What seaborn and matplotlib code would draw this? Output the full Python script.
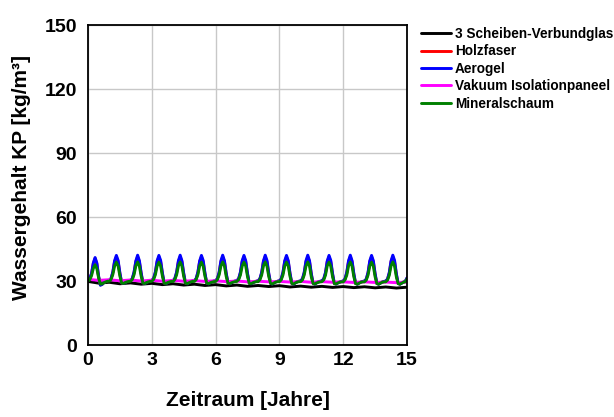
import numpy as np
import pandas as pd
import seaborn as sns
import matplotlib
matplotlib.use("Agg")
import matplotlib.pyplot as plt

# Materialien (Legendenreihenfolge) und Farben
materialien = ["3 Scheiben-Verbundglas", "Holzfaser", "Aerogel",
               "Vakuum Isolationpaneel", "Mineralschaum"]
farben = ["#000000", "#ff0000", "#0000ff", "#ff00ff", "#008000"]

# Monatswerte (je Zeile ein Jahr, 12 Monate) + Endwert bei 15 Jahren
monate = np.arange(181)

aerogel = [
    30.5, 31.2, 33.6, 38.5, 41.0, 38.4, 32.2, 28.0, 28.4, 29.3, 29.8, 30.1,
    30.3, 31.2, 34.2, 39.5, 42.0, 39.6, 33.8, 29.2, 28.8, 29.3, 29.8, 30.1,
    30.3, 31.2, 34.3, 39.4, 42.1, 39.5, 33.8, 29.2, 28.8, 29.3, 29.8, 30.1,
    30.3, 31.2, 34.2, 39.5, 42.0, 39.6, 33.7, 29.1, 28.8, 29.3, 29.7, 30.0,
    30.2, 31.2, 34.2, 39.5, 42.1, 39.5, 33.7, 29.1, 28.7, 29.3, 29.7, 30.0,
    30.2, 31.1, 34.2, 39.4, 42.0, 39.6, 33.7, 29.1, 28.7, 29.2, 29.7, 30.0,
    30.2, 31.1, 34.1, 39.5, 42.1, 39.5, 33.6, 29.1, 28.7, 29.2, 29.7, 30.0,
    30.2, 31.1, 34.2, 39.5, 42.0, 39.5, 33.6, 29.0, 28.7, 29.2, 29.6, 29.9,
    30.1, 31.1, 34.1, 39.4, 42.1, 39.6, 33.6, 29.0, 28.6, 29.2, 29.6, 29.9,
    30.1, 31.0, 34.1, 39.5, 42.0, 39.5, 33.6, 29.0, 28.6, 29.1, 29.6, 29.9,
    30.1, 31.0, 34.1, 39.5, 42.1, 39.5, 33.5, 29.0, 28.6, 29.1, 29.6, 29.9,
    30.1, 31.0, 34.0, 39.4, 42.0, 39.6, 33.5, 28.9, 28.6, 29.1, 29.5, 29.8,
    30.0, 31.0, 34.1, 39.5, 42.1, 39.5, 33.5, 28.9, 28.5, 29.1, 29.5, 29.8,
    30.0, 30.9, 34.0, 39.5, 42.0, 39.5, 33.5, 28.9, 28.5, 29.0, 29.5, 29.8,
    30.0, 30.9, 34.0, 39.4, 42.1, 39.6, 33.4, 28.9, 28.5, 29.0, 29.5, 29.8,
    31.5,
]

holzfaser = [
    30.3, 31.0, 33.4, 38.2, 40.6, 38.0, 31.9, 28.2, 28.5, 29.3, 29.7, 30.1,
    30.2, 31.1, 33.9, 39.0, 41.3, 39.0, 33.4, 29.1, 28.9, 29.4, 29.8, 30.0,
    30.2, 31.1, 33.9, 39.1, 41.4, 38.9, 33.4, 29.1, 28.9, 29.4, 29.8, 30.0,
    30.2, 31.1, 33.9, 39.0, 41.3, 39.0, 33.3, 29.0, 28.9, 29.4, 29.7, 30.0,
    30.1, 31.1, 33.8, 39.0, 41.4, 39.0, 33.3, 29.0, 28.8, 29.3, 29.7, 30.0,
    30.1, 31.0, 33.8, 39.1, 41.3, 38.9, 33.3, 29.0, 28.8, 29.3, 29.7, 29.9,
    30.1, 31.0, 33.8, 39.0, 41.4, 39.0, 33.2, 29.0, 28.8, 29.3, 29.7, 29.9,
    30.1, 31.0, 33.7, 39.0, 41.3, 39.0, 33.2, 28.9, 28.8, 29.3, 29.6, 29.9,
    30.0, 31.0, 33.7, 39.1, 41.4, 38.9, 33.2, 28.9, 28.7, 29.2, 29.6, 29.9,
    30.0, 30.9, 33.7, 39.0, 41.3, 39.0, 33.2, 28.9, 28.7, 29.2, 29.6, 29.8,
    30.0, 30.9, 33.7, 39.0, 41.4, 39.0, 33.1, 28.9, 28.7, 29.2, 29.6, 29.8,
    30.0, 30.9, 33.6, 39.1, 41.3, 38.9, 33.1, 28.8, 28.7, 29.2, 29.5, 29.8,
    29.9, 30.9, 33.6, 39.0, 41.4, 39.0, 33.1, 28.8, 28.6, 29.1, 29.5, 29.8,
    29.9, 30.8, 33.6, 39.0, 41.3, 39.0, 33.1, 28.8, 28.6, 29.1, 29.5, 29.7,
    29.9, 30.8, 33.6, 39.1, 41.4, 38.9, 33.0, 28.8, 28.6, 29.1, 29.5, 29.7,
    31.3,
]

mineralschaum = [
    30.0, 30.6, 32.5, 35.9, 37.6, 35.8, 31.4, 28.5, 28.6, 29.2, 29.6, 29.9,
    29.9, 30.7, 33.0, 37.0, 38.8, 37.0, 32.3, 29.1, 28.8, 29.3, 29.6, 29.8,
    29.9, 30.7, 33.0, 37.1, 38.9, 36.9, 32.3, 29.1, 28.8, 29.3, 29.6, 29.8,
    29.9, 30.7, 32.9, 37.0, 38.8, 37.0, 32.2, 29.0, 28.8, 29.3, 29.6, 29.8,
    29.8, 30.7, 32.9, 37.0, 38.9, 37.0, 32.2, 29.0, 28.7, 29.2, 29.6, 29.8,
    29.8, 30.6, 32.9, 37.1, 38.8, 36.9, 32.2, 29.0, 28.7, 29.2, 29.5, 29.7,
    29.8, 30.6, 32.9, 37.0, 38.9, 37.0, 32.1, 29.0, 28.7, 29.2, 29.5, 29.7,
    29.8, 30.6, 32.8, 37.0, 38.8, 37.0, 32.1, 28.9, 28.7, 29.2, 29.5, 29.7,
    29.7, 30.6, 32.8, 37.1, 38.9, 36.9, 32.1, 28.9, 28.6, 29.1, 29.5, 29.7,
    29.7, 30.5, 32.8, 37.0, 38.8, 37.0, 32.1, 28.9, 28.6, 29.1, 29.5, 29.7,
    29.7, 30.5, 32.8, 37.0, 38.9, 37.0, 32.0, 28.9, 28.6, 29.1, 29.4, 29.6,
    29.7, 30.5, 32.7, 37.1, 38.8, 36.9, 32.0, 28.8, 28.6, 29.1, 29.4, 29.6,
    29.6, 30.5, 32.7, 37.0, 38.9, 37.0, 32.0, 28.8, 28.5, 29.0, 29.4, 29.6,
    29.6, 30.4, 32.7, 37.0, 38.8, 37.0, 32.0, 28.8, 28.5, 29.0, 29.4, 29.6,
    29.6, 30.4, 32.7, 37.1, 38.9, 36.9, 31.9, 28.8, 28.5, 29.0, 29.4, 29.6,
    31.0,
]

# Halbjahreswerte (0, 0.5, 1, ... 15 Jahre)
halbjahre = np.arange(31)

verbundglas = [
    29.8, 29.0, 29.4, 28.7, 29.1, 28.5, 28.9, 28.3, 28.7, 28.1,
    28.5, 27.9, 28.3, 27.7, 28.1, 27.5, 27.9, 27.4, 27.8, 27.2,
    27.6, 27.1, 27.5, 27.0, 27.4, 26.9, 27.3, 26.8, 27.2, 26.7,
    27.1,
]

vakuum = [
    30.8, 30.3, 30.6, 30.1, 30.5, 30.0, 30.4, 29.9, 30.3, 29.9,
    30.2, 29.8, 30.1, 29.7, 30.0, 29.6, 29.9, 29.6, 29.8, 29.5,
    29.8, 29.4, 29.7, 29.4, 29.6, 29.3, 29.6, 29.3, 29.5, 29.2,
    29.5,
]


def build_frame():
    teile = [
        (materialien[0], halbjahre / 2, verbundglas),
        (materialien[1], monate / 12, holzfaser),
        (materialien[2], monate / 12, aerogel),
        (materialien[3], halbjahre / 2, vakuum),
        (materialien[4], monate / 12, mineralschaum),
    ]
    dfs = []
    for name, zeit, werte in teile:
        dfs.append(pd.DataFrame({"Zeit": zeit, "Wert": werte, "Material": name}))
    return pd.concat(dfs, ignore_index=True)


def main():
    sns.set_style("white")
    plt.rcParams["font.family"] = ["Liberation Sans", "DejaVu Sans"]
    plt.rcParams["font.weight"] = "bold"
    for key in ["text.color", "axes.labelcolor", "xtick.color", "ytick.color"]:
        plt.rcParams[key] = "black"

    df = build_frame()

    fig = plt.figure(figsize=(6.14, 4.17), dpi=100)
    ax = fig.add_axes([88 / 614, 1 - 345 / 417, 319 / 614, 320 / 417])

    sns.lineplot(data=df, x="Zeit", y="Wert", hue="Material",
                 hue_order=materialien, palette=dict(zip(materialien, farben)),
                 estimator=None, linewidth=2.1, ax=ax)

    ax.set_xlim(0, 15)
    ax.set_ylim(0, 150)
    ax.set_xticks([0, 3, 6, 9, 12, 15])
    ax.set_yticks([0, 30, 60, 90, 120, 150])
    ax.grid(True, color="#c8c8c8", linewidth=1.0)
    ax.tick_params(length=0, labelsize=14)
    ax.tick_params(axis="y", pad=8)
    ax.tick_params(axis="x", pad=5)
    for lab in ax.get_xticklabels() + ax.get_yticklabels():
        lab.set_fontweight("bold")
    for sp in ax.spines.values():
        sp.set_color("black")
        sp.set_linewidth(1.3)

    ax.set_xlabel("Zeitraum [Jahre]", fontsize=15, fontweight="bold", labelpad=16)
    ax.set_ylabel("Wassergehalt KP [kg/m³]", fontsize=15, fontweight="bold")
    ax.yaxis.set_label_coords(-0.178, 0.525)

    ax.get_legend().remove()
    handles, labels = ax.get_legend_handles_labels()
    fig.legend(handles, labels, loc="upper left",
               bbox_to_anchor=(421 / 614, 1 - 27 / 417),
               bbox_transform=fig.transFigure, frameon=False,
               borderpad=0, borderaxespad=0, handlelength=2.2,
               handletextpad=0.3, labelspacing=0.25,
               prop={"size": 9.8, "weight": "bold"})

    fig.savefig("out.png", dpi=100)


if __name__ == "__main__":
    main()
